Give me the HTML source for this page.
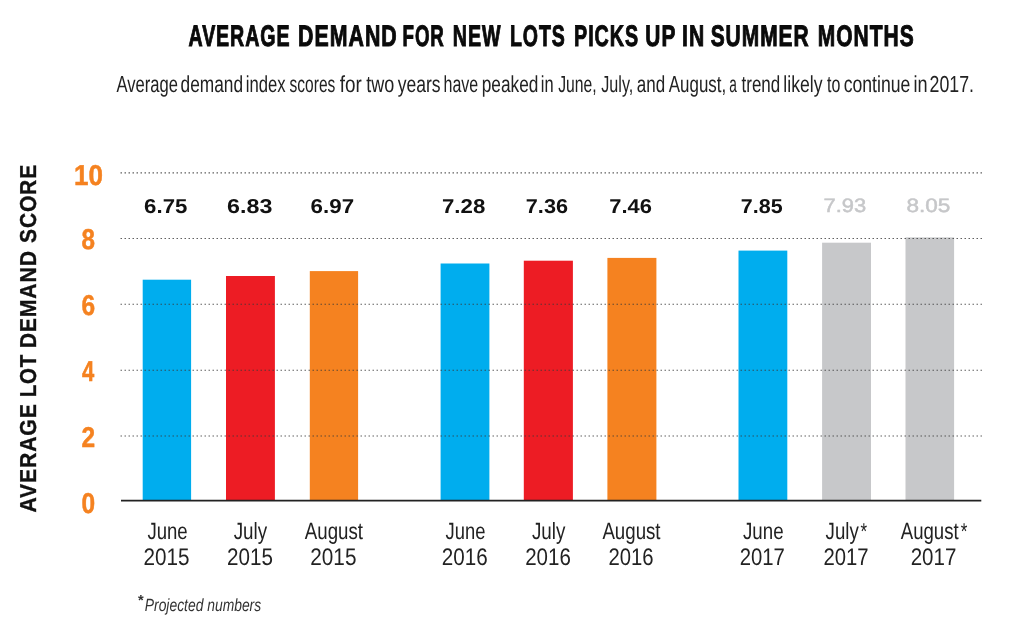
<!DOCTYPE html>
<html lang="en"><head><meta charset="utf-8"><title>Average demand for new lots picks up in summer months</title>
<style>
html,body{margin:0;padding:0;background:#fff;overflow:hidden;}
svg{display:block;font-family:"Liberation Sans",sans-serif;will-change:transform;text-rendering:geometricPrecision;}
text{white-space:pre;}
</style></head>
<body>
<svg width="1023" height="631" viewBox="0 0 1023 631" role="img" aria-label="Bar chart: average lot demand score for June, July and August of 2015, 2016 and 2017">
<rect width="1023" height="631" fill="#ffffff"/>
<rect x="142.7" y="279.7" width="48.4" height="220.9" fill="#00adee"/>
<rect x="226.0" y="276.0" width="48.9" height="224.6" fill="#ed1c24"/>
<rect x="309.8" y="271.1" width="48.3" height="229.5" fill="#f58220"/>
<rect x="440.6" y="263.5" width="48.8" height="237.1" fill="#00adee"/>
<rect x="523.8" y="260.7" width="49.1" height="239.9" fill="#ed1c24"/>
<rect x="607.4" y="257.9" width="49.0" height="242.7" fill="#f58220"/>
<rect x="738.5" y="250.6" width="48.8" height="250.0" fill="#00adee"/>
<rect x="822.1" y="242.7" width="48.9" height="257.9" fill="#c7c8ca"/>
<rect x="905.5" y="237.4" width="48.6" height="263.2" fill="#c7c8ca"/>
<line x1="120.6" y1="172.9" x2="983" y2="172.9" stroke="#3a3a3a" stroke-width="1.1" stroke-dasharray="1.2 2.8"/>
<line x1="120.6" y1="238.5" x2="983" y2="238.5" stroke="#3a3a3a" stroke-width="1.1" stroke-dasharray="1.2 2.8"/>
<line x1="120.6" y1="304.2" x2="983" y2="304.2" stroke="#3a3a3a" stroke-width="1.1" stroke-dasharray="1.2 2.8"/>
<line x1="120.6" y1="370.3" x2="983" y2="370.3" stroke="#3a3a3a" stroke-width="1.1" stroke-dasharray="1.2 2.8"/>
<line x1="120.6" y1="436.0" x2="983" y2="436.0" stroke="#3a3a3a" stroke-width="1.1" stroke-dasharray="1.2 2.8"/>
<line x1="121" y1="500.6" x2="981.3" y2="500.6" stroke="#222" stroke-width="1.6"/>
<text y="45.60" font-size="29.71" font-weight="700" fill="#0a0a0a" stroke="#0a0a0a" stroke-width="1.0" stroke-linejoin="miter" letter-spacing="1.4"><tspan x="188.51" textLength="101.94" lengthAdjust="spacingAndGlyphs">AVERAGE</tspan> <tspan x="298.12" textLength="99.57" lengthAdjust="spacingAndGlyphs">DEMAND</tspan> <tspan x="402.58" textLength="42.13" lengthAdjust="spacingAndGlyphs">FOR</tspan> <tspan x="452.82" textLength="48.58" lengthAdjust="spacingAndGlyphs">NEW</tspan> <tspan x="510.03" textLength="55.71" lengthAdjust="spacingAndGlyphs">LOTS</tspan> <tspan x="574.12" textLength="64.84" lengthAdjust="spacingAndGlyphs">PICKS</tspan> <tspan x="645.36" textLength="30.56" lengthAdjust="spacingAndGlyphs">UP</tspan> <tspan x="682.04" textLength="23.07" lengthAdjust="spacingAndGlyphs">IN</tspan> <tspan x="710.68" textLength="98.96" lengthAdjust="spacingAndGlyphs">SUMMER</tspan> <tspan x="817.84" textLength="96.82" lengthAdjust="spacingAndGlyphs">MONTHS</tspan></text>
<text y="91.90" font-size="23.19" font-weight="400" fill="#222"><tspan x="116.40" textLength="61.50" lengthAdjust="spacingAndGlyphs">Average</tspan> <tspan x="180.51" textLength="62.56" lengthAdjust="spacingAndGlyphs">demand</tspan> <tspan x="245.70" textLength="39.87" lengthAdjust="spacingAndGlyphs">index</tspan> <tspan x="289.59" textLength="45.78" lengthAdjust="spacingAndGlyphs">scores</tspan> <tspan x="339.81" textLength="22.03" lengthAdjust="spacingAndGlyphs">for</tspan> <tspan x="366.22" textLength="28.03" lengthAdjust="spacingAndGlyphs">two</tspan> <tspan x="397.70" textLength="42.93" lengthAdjust="spacingAndGlyphs">years</tspan> <tspan x="443.54" textLength="34.74" lengthAdjust="spacingAndGlyphs">have</tspan> <tspan x="481.76" textLength="56.71" lengthAdjust="spacingAndGlyphs">peaked</tspan> <tspan x="540.81" textLength="12.81" lengthAdjust="spacingAndGlyphs">in</tspan> <tspan x="558.14" textLength="38.44" lengthAdjust="spacingAndGlyphs">June,</tspan> <tspan x="601.24" textLength="32.08" lengthAdjust="spacingAndGlyphs">July,</tspan> <tspan x="636.82" textLength="28.33" lengthAdjust="spacingAndGlyphs">and</tspan> <tspan x="668.80" textLength="57.39" lengthAdjust="spacingAndGlyphs">August,</tspan> <tspan x="729.25" textLength="7.59" lengthAdjust="spacingAndGlyphs">a</tspan> <tspan x="741.53" textLength="38.72" lengthAdjust="spacingAndGlyphs">trend</tspan> <tspan x="783.34" textLength="39.16" lengthAdjust="spacingAndGlyphs">likely</tspan> <tspan x="827.04" textLength="13.34" lengthAdjust="spacingAndGlyphs">to</tspan> <tspan x="843.69" textLength="66.64" lengthAdjust="spacingAndGlyphs">continue</tspan> <tspan x="913.41" textLength="14.10" lengthAdjust="spacingAndGlyphs">in</tspan> <tspan x="929.61" textLength="44.45" lengthAdjust="spacingAndGlyphs">2017.</tspan></text>
<text x="73.99" y="184.65" font-size="28.70" font-weight="700" fill="#f58220" textLength="28.90" lengthAdjust="spacingAndGlyphs" stroke="#f58220" stroke-width="0.5">10</text>
<text x="81.52" y="249.05" font-size="28.70" font-weight="700" fill="#f58220" textLength="13.46" lengthAdjust="spacingAndGlyphs" stroke="#f58220" stroke-width="0.5">8</text>
<text x="81.62" y="315.45" font-size="28.70" font-weight="700" fill="#f58220" textLength="13.62" lengthAdjust="spacingAndGlyphs" stroke="#f58220" stroke-width="0.5">6</text>
<text x="82.03" y="381.45" font-size="28.70" font-weight="700" fill="#f58220" textLength="12.24" lengthAdjust="spacingAndGlyphs" stroke="#f58220" stroke-width="0.5">4</text>
<text x="81.62" y="447.25" font-size="28.70" font-weight="700" fill="#f58220" textLength="13.62" lengthAdjust="spacingAndGlyphs" stroke="#f58220" stroke-width="0.5">2</text>
<text x="81.62" y="512.95" font-size="28.70" font-weight="700" fill="#f58220" textLength="13.62" lengthAdjust="spacingAndGlyphs" stroke="#f58220" stroke-width="0.5">0</text>
<text x="144.13" y="212.70" font-size="20.14" font-weight="700" fill="#111" textLength="43.25" lengthAdjust="spacingAndGlyphs">6.75</text>
<text x="227.10" y="212.70" font-size="20.14" font-weight="700" fill="#111" textLength="45.24" lengthAdjust="spacingAndGlyphs">6.83</text>
<text x="310.63" y="212.70" font-size="20.14" font-weight="700" fill="#111" textLength="43.48" lengthAdjust="spacingAndGlyphs">6.97</text>
<text x="442.01" y="212.70" font-size="20.14" font-weight="700" fill="#111" textLength="43.27" lengthAdjust="spacingAndGlyphs">7.28</text>
<text x="525.83" y="212.70" font-size="20.14" font-weight="700" fill="#111" textLength="42.15" lengthAdjust="spacingAndGlyphs">7.36</text>
<text x="609.32" y="212.70" font-size="20.14" font-weight="700" fill="#111" textLength="42.67" lengthAdjust="spacingAndGlyphs">7.46</text>
<text x="740.84" y="212.70" font-size="20.14" font-weight="700" fill="#111" textLength="41.82" lengthAdjust="spacingAndGlyphs">7.85</text>
<text x="823.45" y="212.45" font-size="19.43" font-weight="400" fill="#c6c7c9" textLength="42.69" lengthAdjust="spacingAndGlyphs" stroke="#c6c7c9" stroke-width="0.5">7.93</text>
<text x="906.45" y="212.45" font-size="19.43" font-weight="400" fill="#c6c7c9" textLength="43.92" lengthAdjust="spacingAndGlyphs" stroke="#c6c7c9" stroke-width="0.5">8.05</text>
<text x="147.41" y="538.50" font-size="23.48" font-weight="400" fill="#222" textLength="40.26" lengthAdjust="spacingAndGlyphs">June</text>
<text x="233.71" y="538.50" font-size="23.48" font-weight="400" fill="#222" textLength="33.49" lengthAdjust="spacingAndGlyphs">July</text>
<text x="304.80" y="538.50" font-size="23.48" font-weight="400" fill="#222" textLength="58.16" lengthAdjust="spacingAndGlyphs">August</text>
<text x="445.52" y="538.50" font-size="23.48" font-weight="400" fill="#222" textLength="39.85" lengthAdjust="spacingAndGlyphs">June</text>
<text x="531.91" y="538.50" font-size="23.48" font-weight="400" fill="#222" textLength="33.49" lengthAdjust="spacingAndGlyphs">July</text>
<text x="602.40" y="538.50" font-size="23.48" font-weight="400" fill="#222" textLength="58.16" lengthAdjust="spacingAndGlyphs">August</text>
<text x="743.01" y="538.50" font-size="23.48" font-weight="400" fill="#222" textLength="40.56" lengthAdjust="spacingAndGlyphs">June</text>
<text fill="#222"><tspan x="825.61" y="538.50" font-size="23.48" font-weight="400" textLength="33.19" lengthAdjust="spacingAndGlyphs">July</tspan><tspan x="860.53" y="539.12" font-size="22.78" font-weight="400" textLength="6.63" lengthAdjust="spacingAndGlyphs">*</tspan></text>
<text fill="#222"><tspan x="900.80" y="538.50" font-size="23.48" font-weight="400" textLength="57.86" lengthAdjust="spacingAndGlyphs">August</tspan><tspan x="960.63" y="539.12" font-size="22.78" font-weight="400" textLength="6.63" lengthAdjust="spacingAndGlyphs">*</tspan></text>
<text x="143.47" y="564.70" font-size="23.91" font-weight="400" fill="#222" textLength="45.98" lengthAdjust="spacingAndGlyphs">2015</text>
<text x="227.07" y="564.70" font-size="23.91" font-weight="400" fill="#222" textLength="45.88" lengthAdjust="spacingAndGlyphs">2015</text>
<text x="310.26" y="564.70" font-size="23.91" font-weight="400" fill="#222" textLength="46.19" lengthAdjust="spacingAndGlyphs">2015</text>
<text x="441.87" y="564.70" font-size="23.91" font-weight="400" fill="#222" textLength="45.88" lengthAdjust="spacingAndGlyphs">2016</text>
<text x="525.17" y="564.70" font-size="23.91" font-weight="400" fill="#222" textLength="45.67" lengthAdjust="spacingAndGlyphs">2016</text>
<text x="608.49" y="564.70" font-size="23.91" font-weight="400" fill="#222" textLength="45.15" lengthAdjust="spacingAndGlyphs">2016</text>
<text x="739.69" y="564.70" font-size="23.91" font-weight="400" fill="#222" textLength="45.15" lengthAdjust="spacingAndGlyphs">2017</text>
<text x="823.49" y="564.70" font-size="23.91" font-weight="400" fill="#222" textLength="45.15" lengthAdjust="spacingAndGlyphs">2017</text>
<text x="910.67" y="564.70" font-size="23.91" font-weight="400" fill="#222" textLength="45.67" lengthAdjust="spacingAndGlyphs">2017</text>
<text fill="#333"><tspan x="137.90" y="604.89" font-size="14.47" font-weight="700" textLength="5.69" lengthAdjust="spacingAndGlyphs">*</tspan><tspan x="144.78" y="610.70" font-size="17.68" font-weight="400" font-style="italic" textLength="116.39" lengthAdjust="spacingAndGlyphs">Projected numbers</tspan></text>
<text transform="translate(36.2 512.2) rotate(-90)" y="0" font-size="23.04" font-weight="700" fill="#111" stroke="#111" stroke-width="0.35" letter-spacing="0.9"><tspan x="-0.43" textLength="109.34" lengthAdjust="spacingAndGlyphs">AVERAGE</tspan> <tspan x="114.87" textLength="43.45" lengthAdjust="spacingAndGlyphs">LOT</tspan> <tspan x="163.83" textLength="98.19" lengthAdjust="spacingAndGlyphs">DEMAND</tspan> <tspan x="269.28" textLength="78.92" lengthAdjust="spacingAndGlyphs">SCORE</tspan></text>
</svg>
</body></html>
